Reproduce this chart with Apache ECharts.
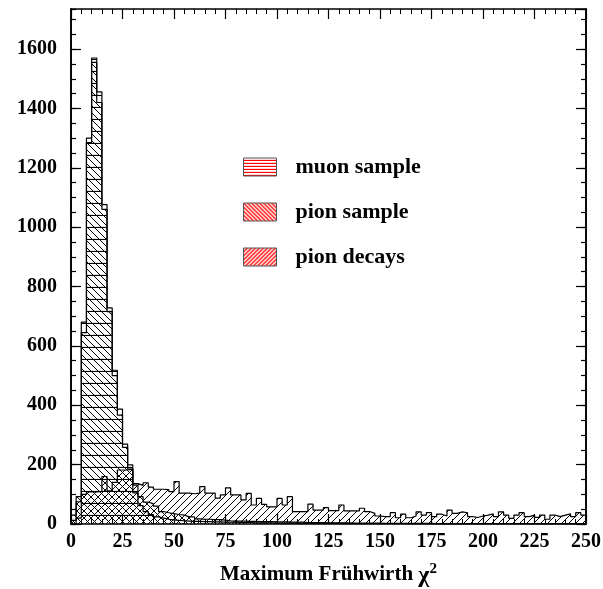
<!DOCTYPE html>
<html><head><meta charset="utf-8">
<script src="https://cdn.jsdelivr.net/npm/echarts@6/dist/echarts.min.js"></script>
<style>html,body{margin:0;padding:0;background:#fff}#c{width:603px;height:589px}</style>
</head><body><div id="c"></div>
<script>
// ---- data ----
const BIN_WIDTH = 2.5;           // bins of 2.5 from 0 to 250
const xTickLabels = [0, 25, 50, 75, 100, 125, 150, 175, 200, 225, 250];
const yTickLabels = [0, 200, 400, 600, 800, 1000, 1200, 1400, 1600];
const seriesNames = ['muon sample', 'pion sample', 'pion decays'];

const muonSample = [
  0, 20, 680, 1300, 1570, 1456, 1076, 728, 518, 387, 269, 199, 131, 62, 42, 32, 24, 20, 16, 14,
  12, 11, 10, 9, 9, 8, 8, 7, 7, 6, 6, 6, 5, 5, 5, 4, 4, 4, 4, 3,
  3, 3, 3, 3, 2, 2, 2, 2, 2, 2, 2, 2, 1, 1, 1, 1, 1, 1, 1, 1,
  1, 1, 1, 1, 1, 0, 0, 0, 0, 0, 0, 0, 0, 0, 0, 0, 0, 0, 0, 0,
  0, 0, 0, 0, 0, 0, 0, 0, 0, 0, 0, 0, 0, 0, 0, 0, 0, 0, 0, 0
];
const pionSample = [
  30, 92, 645, 1285, 1555, 1420, 1060, 715, 500, 367, 258, 185, 105, 92, 74, 68, 60, 42, 38, 35,
  32, 30, 24, 24, 17, 16, 16, 15, 15, 13, 11, 10, 10, 10, 9, 9, 8, 8, 8, 7,
  7, 7, 6, 6, 6, 5, 5, 5, 5, 4, 4, 4, 4, 4, 3, 3, 3, 3, 3, 3,
  2, 2, 2, 2, 2, 2, 2, 2, 2, 2, 1, 1, 1, 1, 1, 1, 1, 1, 1, 1,
  1, 1, 1, 1, 1, 1, 1, 1, 1, 1, 1, 1, 1, 1, 1, 1, 1, 1, 1, 1
];
const pionDecays = [
  12, 75, 100, 108, 108, 110, 160, 112, 140, 182, 182, 185, 136, 130, 139, 124, 117, 117, 116, 109,
  143, 104, 104, 102, 104, 126, 104, 104, 87, 98, 122, 98, 98, 81, 103, 64, 86, 66, 58, 58,
  86, 64, 92, 42, 42, 42, 67, 47, 47, 55, 45, 45, 64, 44, 44, 44, 53, 42, 36, 27,
  25, 25, 38, 21, 33, 21, 27, 41, 30, 38, 25, 33, 27, 47, 36, 41, 38, 25, 22, 27,
  30, 34, 25, 41, 30, 19, 30, 38, 25, 30, 22, 30, 16, 30, 25, 30, 34, 25, 38, 30
];

// ---- helpers ----
function toSteps(values) {
  const pts = [[0, 0]];
  values.forEach((v, i) => pts.push([i * BIN_WIDTH, v]));
  const end = values.length * BIN_WIDTH;
  pts.push([end, values[values.length - 1]]);
  pts.push([end, 0]);
  return pts;
}
function hatch(kind, period, color, lw, bg) {
  const c = document.createElement('canvas');
  const s = period;
  c.width = kind === 'h' ? 8 : s;
  c.height = s;
  const ctx = c.getContext('2d');
  if (bg) { ctx.fillStyle = bg; ctx.fillRect(0, 0, c.width, c.height); }
  ctx.strokeStyle = color; ctx.lineWidth = lw; ctx.lineCap = 'square';
  ctx.beginPath();
  if (kind === 'h') {
    ctx.moveTo(0, s - 0.5); ctx.lineTo(c.width, s - 0.5);
  } else if (kind === 'f') { // forward slash ///
    ctx.moveTo(0, s); ctx.lineTo(s, 0);
    ctx.moveTo(-1, 1); ctx.lineTo(1, -1);
    ctx.moveTo(s - 1, s + 1); ctx.lineTo(s + 1, s - 1);
  } else { // back slash \\\
    ctx.moveTo(0, 0); ctx.lineTo(s, s);
    ctx.moveTo(s - 1, -1); ctx.lineTo(s + 1, 1);
    ctx.moveTo(-1, s - 1); ctx.lineTo(1, s + 1);
  }
  ctx.stroke();
  return { image: c, repeat: 'repeat' };
}

const FONT = 'Liberation Serif';
const fillMuon = hatch('h', 12, '#000', 1.2);
const fillPion = hatch('b', 7, '#000', 1);
const fillDecay = hatch('f', 7, '#000', 1);
const legMuon = hatch('h', 3, '#ff0000', 1.3, '#fff');
const legPion = hatch('b', 4, '#ff0000', 1.3, '#fff');
const legDecay = hatch('f', 4, '#ff0000', 1.3, '#fff');

const chart = echarts.init(document.getElementById('c'), null, { renderer: 'canvas' });

const axisLine = { show: true, onZero: false, lineStyle: { color: '#000', width: 1.6 } };
function xAx(pos, labels) {
  return {
    type: 'value', min: xTickLabels[0], max: xTickLabels[xTickLabels.length - 1],
    interval: xTickLabels[1] - xTickLabels[0], position: pos,
    axisLine: axisLine,
    axisTick: { show: true, inside: true, length: 10, lineStyle: { color: '#000', width: 1.2 } },
    minorTick: { show: true, splitNumber: 5, length: 5, lineStyle: { color: '#000', width: 1 } },
    splitLine: { show: false }, minorSplitLine: { show: false },
    axisLabel: labels ? { show: true, fontFamily: FONT, fontWeight: 'bold', fontSize: 20, color: '#000', margin: 8,
      formatter: v => String(v) } : { show: false }
  };
}
const Y_MAX = 1735;
function yAx(pos, interval, len, labels) {
  return {
    type: 'value', min: 0, max: Y_MAX, interval: interval, position: pos,
    axisLine: axisLine,
    axisTick: { show: true, inside: true, length: len, lineStyle: { color: '#000', width: 1.2 } },
    splitLine: { show: false },
    axisLabel: labels ? { show: true, showMaxLabel: false, fontFamily: FONT, fontWeight: 'bold', fontSize: 20, color: '#000', margin: 14,
      formatter: v => String(v) } : { show: false }
  };
}
const bottomX = xAx('bottom', true);
bottomX.name = 'Maximum Frühwirth {chi|χ}{sup|2}';
bottomX.nameLocation = 'middle';
bottomX.nameGap = 38;
bottomX.nameTextStyle = {
  fontFamily: FONT, fontWeight: 'bold', fontSize: 21, color: '#000',
  rich: {
    chi: { fontFamily: FONT, fontWeight: 'bold', fontSize: 24, color: '#000', lineHeight: 26, verticalAlign: 'bottom' },
    sup: { fontFamily: FONT, fontWeight: 'bold', fontSize: 15, color: '#000', lineHeight: 15, verticalAlign: 'top' }
  }
};

function histSeries(name, values, fill, z) {
  return {
    type: 'line', name: name, step: 'end', symbol: 'none', showSymbol: false,
    xAxisIndex: 0, yAxisIndex: 0, z: z,
    data: toSteps(values),
    lineStyle: { color: '#000', width: 1.2 },
    itemStyle: { color: '#000' },
    areaStyle: { color: fill, opacity: 1 },
    emphasis: { disabled: true }
  };
}

chart.setOption({
  animation: false,
  backgroundColor: '#fff',
  grid: { left: 71, right: 17, top: 9, bottom: 65, containLabel: false, outerBoundsMode: 'none' },
  xAxis: [bottomX, xAx('top', false)],
  yAxis: [yAx('left', yTickLabels[1] - yTickLabels[0], 10, true), yAx('left', 50, 5, false),
          yAx('right', yTickLabels[1] - yTickLabels[0], 10, false), yAx('right', 50, 5, false)],
  legend: {
    orient: 'vertical', left: 243, top: 156, padding: 0,
    itemWidth: 33, itemHeight: 18, itemGap: 23, icon: 'rect',
    selectedMode: false,
    textStyle: { fontFamily: FONT, fontWeight: 'bold', fontSize: 22, color: '#000', padding: [0, 0, 0, 14] },
    data: [
      { name: seriesNames[0], itemStyle: { color: legMuon, borderColor: '#555', borderWidth: 1 } },
      { name: seriesNames[1], itemStyle: { color: legPion, borderColor: '#555', borderWidth: 1 } },
      { name: seriesNames[2], itemStyle: { color: legDecay, borderColor: '#555', borderWidth: 1 } }
    ]
  },
  series: [
    histSeries(seriesNames[2], pionDecays, fillDecay, 2),
    histSeries(seriesNames[1], pionSample, fillPion, 3),
    histSeries(seriesNames[0], muonSample, fillMuon, 4)
  ]
});
</script>
</body></html>
